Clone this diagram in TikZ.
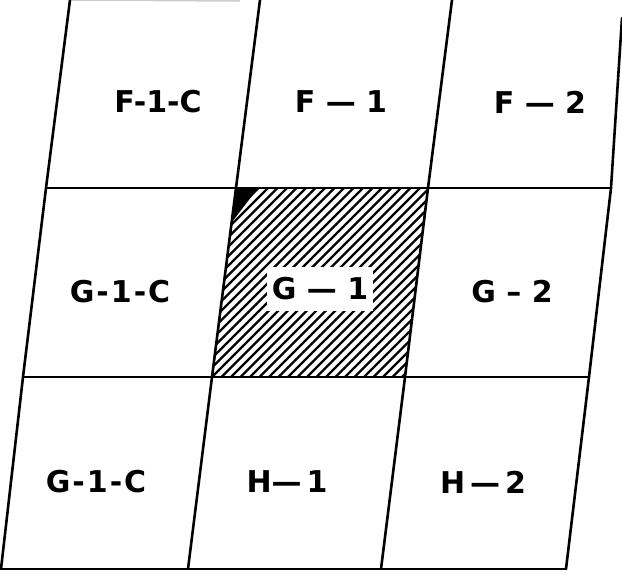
\documentclass[tikz,border=0pt]{standalone}
\usepackage{fontspec}
\setmainfont{DejaVu Sans}
\usetikzlibrary{positioning,calc}

\begin{document}
\begin{tikzpicture}[x=1pt,y=-1pt,
  gridline/.style={line width=2.6pt, line cap=round},
  hatchline/.style={line width=2.4pt},
  sheet/.style={font=\fontsize{30}{32}\selectfont\bfseries, inner sep=2pt}]
  \clip (0,0) rectangle (622,574);

  % --- Grid corners: row 0..3, column 0..3 ---
  \foreach \col/\xa/\xb/\xc/\xd in {0/70/46/23/1, 1/260/236/212/188, 2/452/428/405/381, 3/633/611/589/566} {
    \coordinate (c0\col) at (\xa,0);
    \coordinate (c1\col) at (\xb,188);
    \coordinate (c2\col) at (\xc,377);
    \coordinate (c3\col) at (\xd,569);
  }
  \coordinate (c03) at (622,18);

  % --- Hatched sheet G-1 ---
  \begin{scope}
    \clip (c11) -- (c12) -- (c22) -- (c21) -- cycle;
    \foreach \k in {418,427.5,...,790} {
      \draw[hatchline] (\k-140,140) -- (\k-400,400);
    }
    % dark corner
    \fill (c11) -- ++(22,0) -- ++(-26,34) -- cycle;
  \end{scope}

  % --- Grid lines ---
  \draw[gray!40, line width=1.5pt] (c00) -- ++(170,1);
  \foreach \col in {0,...,3} {
    \draw[gridline] (c0\col) -- (c1\col) -- (c2\col) -- (c3\col);
  }
  \foreach \row in {1,2,3} {
    \draw[gridline] (c\row0) -- (c\row3);
  }

  % --- Sheet labels ---
  \node[sheet] (f1c) at (158,102) {F-1-C};
  \node[sheet] (f1) at (341,102) {F --- 1};
  \node[sheet] (f2) at (540,102) {F --- 2};
  \node[sheet] (g1c) at (120,292) {G\kern2pt-\kern2pt1\kern2pt-\kern2pt C};
  \node[sheet, fill=white, minimum width=106pt, minimum height=44pt] (g1) at (320,289) {G --- 1};
  \node[sheet] (g2) at (512,292) {G -- 2};
  \node[sheet] (h1c) at (96,482) {G\kern2pt-\kern2pt1\kern2pt-\kern2pt C};
  \node[sheet] (h1) at (287,482) {H---\,1};
  \node[sheet] (h2) at (483,482) {H\,---\,2};
\end{tikzpicture}
\end{document}
